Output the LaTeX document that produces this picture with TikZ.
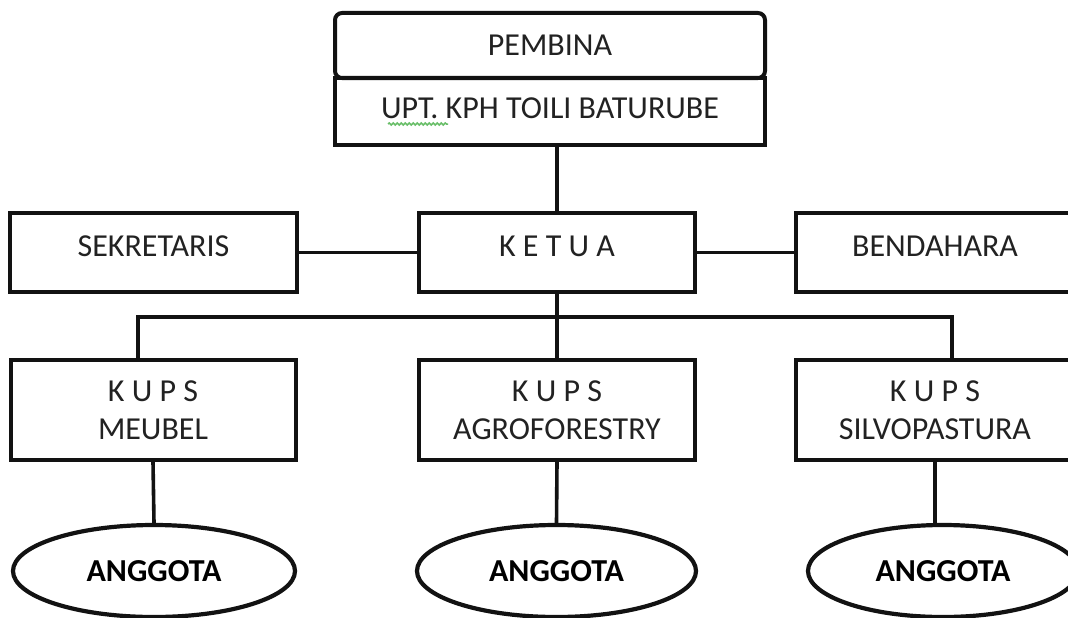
\documentclass[tikz,border=0pt]{standalone}
\usepackage{fontspec}
\setmainfont{Carlito}
\usetikzlibrary{shapes.geometric,decorations.pathmorphing}
\definecolor{ink}{RGB}{18,18,18}
\definecolor{txt}{RGB}{34,34,34}
\definecolor{squig}{RGB}{105,190,105}
\begin{document}
\begin{tikzpicture}[x=1pt,y=-1pt,
  every node/.style={font=\fontsize{32}{38.4}\selectfont, text=txt},
  box/.style={draw=ink, line width=4pt, rectangle, inner sep=0pt, align=center},
  one/.style={text height=20.5pt, text depth=12pt},
  oval/.style={draw=ink, line width=4.2pt, ellipse, inner sep=0pt, minimum height=92pt,
    font=\fontsize{32}{38.4}\selectfont\bfseries, text=black},
  link/.style={draw=ink, line width=3.6pt}]
\useasboundingbox (0,0) rectangle (1068,618);
\fill[white] (0,0) rectangle (1068,618);
\clip (0,0) rectangle (1068,618);

% top
\node[box, rounded corners=7pt, minimum width=430pt, minimum height=65pt] (pembina) at (550,45.5) {PEMBINA};
\node[box, minimum width=430pt, minimum height=67pt, text height=20.5pt, text depth=7pt] (upt) at (550,111.5) {UPT. KPH TOILI BATURUBE};
\draw[squig, line width=1.5pt, decorate, decoration={snake, amplitude=1pt, segment length=4pt}] (388,124) -- (448,124);

% second row
\node[box, one, minimum width=287pt, minimum height=79pt] (sek) at (153.5,252.5) {SEKRETARIS};
\node[box, one, minimum width=276pt, minimum height=79pt] (ketua) at (557,252.5) {K E T U A};
\node[box, one, minimum width=278pt, minimum height=79pt] (bend) at (935,252.5) {BENDAHARA};

% third row
\node[box, minimum width=285pt, minimum height=100pt] (meubel) at (153,410) {K U P S\\MEUBEL};
\node[box, minimum width=276pt, minimum height=100pt] (agro) at (557,410) {K U P S\\AGROFORESTRY};
\node[box, minimum width=278pt, minimum height=100pt] (silvo) at (935,410) {K U P S\\SILVOPASTURA};

% members
\node[oval, minimum width=282pt] (a1) at (154,571) {ANGGOTA};
\node[oval, minimum width=279pt] (a2) at (556.5,571) {ANGGOTA};
\node[oval, minimum width=270pt] (a3) at (943,571) {ANGGOTA};

% connectors
\coordinate (busL) at (138,317);
\coordinate (busR) at (952,317);
\draw[link] (upt.south -| ketua.north) -- (ketua.north);
\draw[link] (sek.east) -- (ketua.west);
\draw[link] (ketua.east) -- (bend.west);
\draw[link] (ketua.south) -- (agro.north);
\draw[link] (meubel.north -| busL) -- (busL) -- (busR) -- (silvo.north -| busR);
\draw[link] (meubel.south) -- (a1.north);
\draw[link] (agro.south) -- (a2.north);
\draw[link] (silvo.south) -- (silvo.south |- a3.north);
\end{tikzpicture}
\end{document}
